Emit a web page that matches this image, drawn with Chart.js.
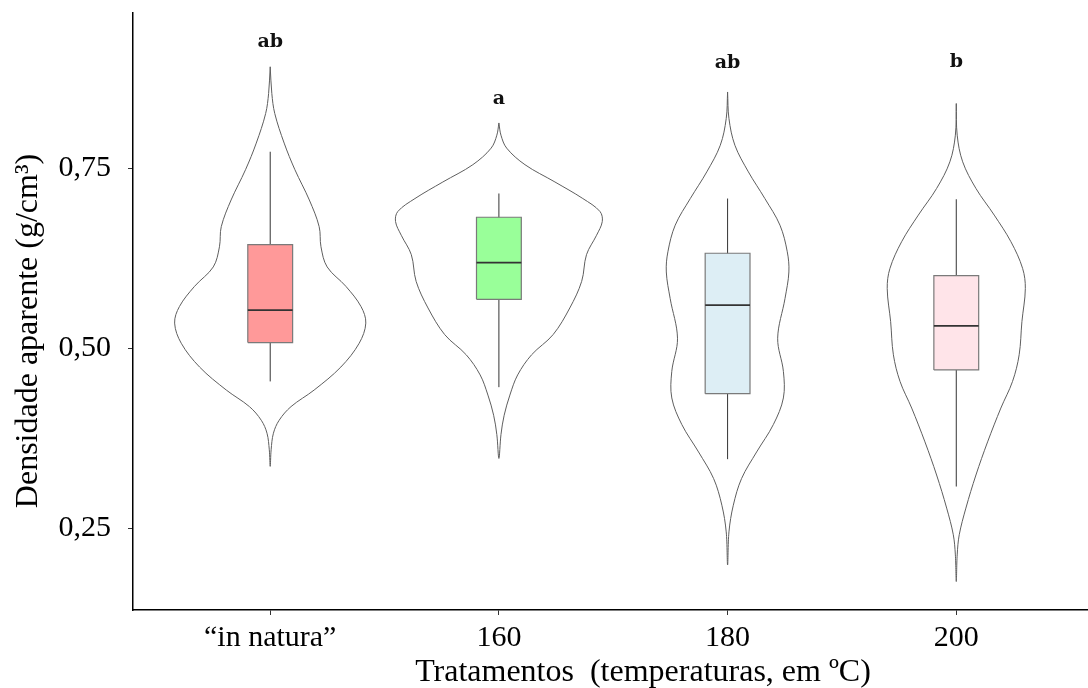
<!DOCTYPE html>
<html>
<head>
<meta charset="utf-8">
<script src="https://cdn.jsdelivr.net/npm/chart.js@4.4.1/dist/chart.umd.min.js"></script>
<style>
  body { margin: 0; background: #fff; overflow: hidden; }
  #wrap { width: 1088px; height: 688px; }
</style>
</head>
<body>
<div id="wrap"><canvas id="chart" width="1088" height="688"></canvas></div>
<script>
// ---- data ----
const categories = ['\u201Cin natura\u201D', '160', '180', '200']
const lowerWhisker = [0.454, 0.446, 0.346, 0.308]
const q1 = [0.508, 0.568, 0.437, 0.470]
const median = [0.553, 0.619, 0.560, 0.531]
const q3 = [0.644, 0.682, 0.632, 0.601]
const upperWhisker = [0.773, 0.715, 0.708, 0.707]
const letters = ['ab', 'a', 'ab', 'b']
const letterY = [0.925, 0.846, 0.896, 0.897]
const yTicks = [0.25, 0.50, 0.75]

// violin outline: [density value, half width in category units], top to bottom
const violinInNatura = [
    [0.891, 0], [0.854, 0.007], [0.826, 0.020], [0.785, 0.061], [0.748, 0.108],
    [0.706, 0.171], [0.669, 0.214], [0.641, 0.222], [0.613, 0.249], [0.586, 0.331],
    [0.558, 0.397], [0.535, 0.418], [0.507, 0.389], [0.474, 0.309], [0.442, 0.192],
    [0.419, 0.091], [0.400, 0.039], [0.382, 0.014], [0.359, 0.004], [0.336, 0]
]
const violin160 = [
    [0.813, 0], [0.796, 0.009], [0.778, 0.034], [0.755, 0.114], [0.731, 0.245],
    [0.708, 0.367], [0.690, 0.442], [0.676, 0.452], [0.657, 0.427], [0.630, 0.383],
    [0.593, 0.362], [0.556, 0.310], [0.519, 0.237], [0.491, 0.143], [0.463, 0.082],
    [0.435, 0.048], [0.407, 0.023], [0.380, 0.009], [0.347, 0]
]
const violin180 = [
    [0.856, 0], [0.819, 0.006], [0.782, 0.032], [0.745, 0.091], [0.708, 0.163],
    [0.671, 0.229], [0.634, 0.261], [0.606, 0.268], [0.569, 0.251], [0.514, 0.219],
    [0.468, 0.244], [0.431, 0.244], [0.394, 0.200], [0.356, 0.127], [0.319, 0.061],
    [0.282, 0.025], [0.245, 0.006], [0.199, 0]
]
const violin200 = [
    [0.840, 0], [0.796, 0.004], [0.759, 0.028], [0.722, 0.086], [0.685, 0.166],
    [0.648, 0.239], [0.611, 0.290], [0.583, 0.302], [0.537, 0.287], [0.491, 0.275],
    [0.454, 0.246], [0.417, 0.195], [0.370, 0.137], [0.324, 0.086], [0.278, 0.042],
    [0.241, 0.013], [0.213, 0.004], [0.176, 0]
]
const violins = [violinInNatura, violin160, violin180, violin200]

// ---- styles ----
const boxColors = ['#ff9999', '#99ff99', '#ddeef5', '#ffe4e9']
const BOX_HALF = 0.098
const SERIF = "'Liberation Serif', 'Times New Roman', serif"

Chart.defaults.font.family = SERIF
Chart.defaults.color = '#000'

function violinPoints(i, prof) {
    var pts = prof.map((p) => ({x: i - p[1], y: p[0]}))
    for (var k = prof.length - 2; k >= 0; k--) {
        pts.push({x: i + prof[k][1], y: prof[k][0]})
    }
    return pts
}

var datasets = []
categories.forEach((c, i) => {
    datasets.push({
        data: violinPoints(i, violins[i]),
        borderColor: '#5e5e5e',
        borderWidth: 1,
        tension: 0.35,
        fill: false,
        order: 4
    })
    datasets.push({
        data: [{x: i, y: lowerWhisker[i]}, {x: i, y: upperWhisker[i]}],
        borderColor: '#333',
        borderWidth: 1,
        fill: false,
        order: 3
    })
    datasets.push({
        data: [
            {x: i - BOX_HALF, y: q1[i]}, {x: i + BOX_HALF, y: q1[i]},
            {x: i + BOX_HALF, y: q3[i]}, {x: i - BOX_HALF, y: q3[i]},
            {x: i - BOX_HALF, y: q1[i]}
        ],
        borderColor: '#7a7a7a',
        borderWidth: 1.2,
        backgroundColor: boxColors[i],
        fill: 'shape',
        order: 2
    })
    datasets.push({
        data: [{x: i - BOX_HALF, y: median[i]}, {x: i + BOX_HALF, y: median[i]}],
        borderColor: '#333',
        borderWidth: 1.8,
        fill: false,
        order: 1
    })
})

const annotations = {
    id: 'annotations',
    afterDatasetsDraw(chart) {
        var ctx = chart.ctx
        var xs = chart.scales.x, ys = chart.scales.y
        ctx.save()
        ctx.fillStyle = '#111'
        ctx.textAlign = 'center'
        ctx.textBaseline = 'middle'
        ctx.font = "bold 19px 'DejaVu Serif', serif"
        letters.forEach((t, i) => {
            ctx.fillText(t, xs.getPixelForValue(i), ys.getPixelForValue(letterY[i]))
        })
        // axis titles
        ctx.fillStyle = '#000'
        ctx.font = '32px ' + SERIF
        ctx.textBaseline = 'alphabetic'
        ctx.fillText('Tratamentos  (temperaturas, em \u00BAC)', 643, 681)
        ctx.translate(37, 331)
        ctx.rotate(-Math.PI / 2)
        ctx.fillText('Densidade aparente (g/cm\u00B3)', 0, 0)
        ctx.restore()
    }
}

new Chart(document.getElementById('chart'), {
    type: 'scatter',
    data: {datasets: datasets},
    options: {
        responsive: false,
        animation: false,
        showLine: true,
        elements: {point: {radius: 0, hoverRadius: 0}},
        layout: {padding: {top: 13, right: 0, left: 0, bottom: 0}},
        plugins: {legend: {display: false}, tooltip: {enabled: false}},
        scales: {
            x: {
                type: 'linear',
                min: -0.6,
                max: 3.576,
                afterBuildTicks: (s) => { s.ticks = categories.map((c, i) => ({value: i})) },
                afterFit: (s) => { s.height = 78; s.paddingLeft = 0; s.paddingRight = 0 },
                ticks: {
                    font: {size: 30},
                    padding: 5,
                    maxRotation: 0,
                    callback: (v) => categories[v]
                },
                grid: {drawOnChartArea: false, drawTicks: true, tickLength: 5, color: '#333'},
                border: {display: true, color: '#000', width: 1.5}
            },
            y: {
                min: 0.1365,
                max: 0.9657,
                afterBuildTicks: (s) => { s.ticks = yTicks.map((v) => ({value: v})) },
                afterFit: (s) => { s.width = 133; s.paddingTop = 0; s.paddingBottom = 0 },
                ticks: {
                    font: {size: 30},
                    padding: 17,
                    callback: (v) => v.toFixed(2).replace('.', ',')
                },
                grid: {drawOnChartArea: false, drawTicks: true, tickLength: 5, color: '#333'},
                border: {display: true, color: '#000', width: 1.5}
            }
        }
    },
    plugins: [annotations]
})
</script>
</body>
</html>
